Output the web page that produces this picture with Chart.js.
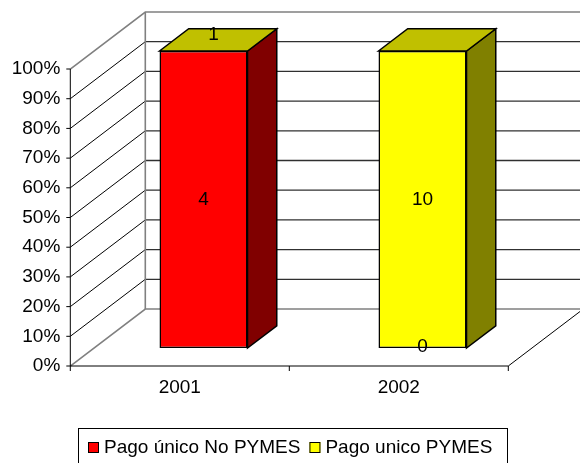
<!DOCTYPE html>
<html>
<head>
<meta charset="utf-8">
<script src="https://cdn.jsdelivr.net/npm/chart.js@4/dist/chart.umd.min.js"></script>
<style>
  html, body { margin: 0; padding: 0; background: #fff; }
  #wrap { width: 580px; height: 463px; }
</style>
</head>
<body>
<div id="wrap"><canvas id="myChart" width="580" height="463"></canvas></div>
<script>
// datos (100% apilado)
const categories = ['2001', '2002'];
const seriesNames = ['Pago único No PYMES', 'Pago unico PYMES'];
const noPymesPct = [100, 0];
const pymesPct = [0, 100];
// etiquetas de datos tal como aparecen
const noPymesLabels = ['4', '0'];
const pymesLabels = ['1', '10'];
const yTickValues = [0, 10, 20, 30, 40, 50, 60, 70, 80, 90, 100];
const yTickLabels = ['0%', '10%', '20%', '30%', '40%', '50%', '60%', '70%', '80%', '90%', '100%'];

const FONT = '19px "Liberation Sans", Arial, sans-serif';
const frontColors = ['#ff0000', '#ffff00'];
const sideColors = ['#800000', '#808000'];
const topColors = ['#c00000', '#c0c000'];

// profundidad del 3D
const DX = 75, DY = -57;   // del plano frontal al fondo
const DF = 0.316;          // plano donde estan las caras de las barras
const BD = 0.39;           // profundidad de la barra

function plane(chart, d) {
    const xs = chart.scales.x, ys = chart.scales.y;
    const ox = (d - DF) * DX, oy = (d - DF) * DY;
    return {
        left: xs.left + ox,
        right: xs.right + ox,
        x: px => px + ox,
        y: v => ys.getPixelForValue(v) + oy
    };
}

function line(ctx, pts, color, w) {
    ctx.beginPath();
    ctx.moveTo(pts[0][0], pts[0][1]);
    for (let i = 1; i < pts.length; i++) ctx.lineTo(pts[i][0], pts[i][1]);
    ctx.strokeStyle = color;
    ctx.lineWidth = w;
    ctx.stroke();
}

const wallsPlugin = {
    id: 'walls',
    beforeDatasetsDraw(chart) {
        const ctx = chart.ctx;
        const f = plane(chart, 0), b = plane(chart, 1);
        ctx.save();
        yTickValues.forEach(v => {
            if (v > 0 && v < 100) {
                line(ctx, [[f.left, f.y(v)], [b.left, b.y(v)]], '#000', 1);
                line(ctx, [[b.left, b.y(v)], [b.right, b.y(v)]], '#303030', 1.3);
            }
        });
        // bordes grises de paredes
        line(ctx, [[f.left, f.y(100)], [b.left, b.y(100)], [b.right, b.y(100)]], '#808080', 1.6);
        line(ctx, [[b.left, b.y(100)], [b.left, b.y(0)]], '#808080', 1.6);
        line(ctx, [[f.left, f.y(0)], [b.left, b.y(0)], [b.right, b.y(0)]], '#808080', 1.6);
        // ejes
        line(ctx, [[f.left, f.y(100)], [f.left, f.y(0)], [f.right, f.y(0)], [b.right, b.y(0)]], '#000', 1);
        yTickValues.forEach(v => {
            line(ctx, [[f.left - 4, f.y(v)], [f.left, f.y(v)]], '#000', 1);
        });
        const xs = chart.scales.x;
        const bounds = [xs.left, (xs.left + xs.right) / 2, xs.right];
        bounds.forEach(px => {
            line(ctx, [[f.x(px), f.y(0)], [f.x(px), f.y(0) + 5]], '#000', 1);
        });
        ctx.fillStyle = '#000';
        ctx.font = FONT;
        ctx.textAlign = 'right';
        ctx.textBaseline = 'middle';
        yTickValues.forEach((v, i) => {
            ctx.fillText(yTickLabels[i], f.left - 10, f.y(v));
        });
        ctx.textAlign = 'center';
        categories.forEach((c, i) => {
            ctx.fillText(c, f.x(xs.getPixelForValue(i)), f.y(0) + 22);
        });
        ctx.restore();
    }
};

const bars3dPlugin = {
    id: 'bars3d',
    afterDatasetsDraw(chart) {
        const ctx = chart.ctx;
        const dx = BD * DX, dy = BD * DY;
        const nSets = chart.data.datasets.length;
        const labelSets = [noPymesLabels, pymesLabels];
        ctx.save();
        ctx.lineJoin = 'miter';
        for (let i = 0; i < nSets; i++) {
            const meta = chart.getDatasetMeta(i);
            meta.data.forEach((bar, j) => {
                const p = bar.getProps(['x', 'y', 'base', 'width'], true);
                const l = p.x - p.width / 2, r = p.x + p.width / 2;
                const top = Math.min(p.y, p.base), bot = Math.max(p.y, p.base);
                if (bot - top > 0.5) {
                    ctx.beginPath();
                    ctx.moveTo(r, top);
                    ctx.lineTo(r + dx, top + dy);
                    ctx.lineTo(r + dx, bot + dy);
                    ctx.lineTo(r, bot);
                    ctx.closePath();
                    ctx.fillStyle = sideColors[i];
                    ctx.fill();
                    ctx.strokeStyle = '#000';
                    ctx.lineWidth = 1.5;
                    ctx.stroke();
                }
                if (i === nSets - 1) {
                    ctx.beginPath();
                    ctx.moveTo(l, top);
                    ctx.lineTo(l + dx, top + dy);
                    ctx.lineTo(r + dx, top + dy);
                    ctx.lineTo(r, top);
                    ctx.closePath();
                    ctx.fillStyle = topColors[i];
                    ctx.fill();
                    ctx.strokeStyle = '#000';
                    ctx.lineWidth = 1.5;
                    ctx.stroke();
                }
            });
        }
        // etiquetas de datos
        ctx.fillStyle = '#000';
        ctx.font = FONT;
        ctx.textAlign = 'center';
        ctx.textBaseline = 'middle';
        for (let i = 0; i < nSets; i++) {
            const meta = chart.getDatasetMeta(i);
            meta.data.forEach((bar, j) => {
                const p = bar.getProps(['x', 'y', 'base'], true);
                let lx = p.x, ly = (p.y + p.base) / 2;
                if (Math.abs(p.y - p.base) < 0.5) {
                    if (p.y < chart.chartArea.top + 1) { lx += 10; ly -= 16; }
                    else { ly -= 1; }
                }
                ctx.fillText(labelSets[i][j], lx, ly);
            });
        }
        ctx.restore();
    }
};

const legendPlugin = {
    id: 'boxLegend',
    afterDraw(chart) {
        const ctx = chart.ctx;
        ctx.save();
        ctx.strokeStyle = '#000';
        ctx.lineWidth = 1;
        ctx.strokeRect(78.5, 428.5, 429, 40);
        ctx.font = FONT;
        ctx.textBaseline = 'middle';
        ctx.textAlign = 'left';
        let x = 88;
        const yc = 448;
        chart.data.datasets.forEach((ds, i) => {
            ctx.fillStyle = ds.backgroundColor;
            ctx.fillRect(x, yc - 6, 11, 11);
            ctx.strokeStyle = '#000';
            ctx.strokeRect(x + 0.5, yc - 5.5, 10, 10);
            ctx.fillStyle = '#000';
            ctx.fillText(ds.label, x + 16, yc);
            x += 16 + ctx.measureText(ds.label).width + 9;
        });
        ctx.restore();
    }
};

function drawChart() {
    const ctx = document.getElementById('myChart');
    new Chart(ctx, {
        type: 'bar',
        data: {
            labels: categories,
            datasets: [
                { label: seriesNames[0], data: noPymesPct, backgroundColor: frontColors[0] },
                { label: seriesNames[1], data: pymesPct, backgroundColor: frontColors[1] }
            ]
        },
        options: {
            responsive: false,
            animation: false,
            devicePixelRatio: 1,
            layout: { padding: { left: 94, right: 48, top: 51, bottom: 115 } },
            datasets: {
                bar: {
                    borderColor: '#000',
                    borderWidth: 1.5,
                    borderSkipped: false,
                    categoryPercentage: 1,
                    barPercentage: 0.402
                }
            },
            plugins: {
                legend: { display: false },
                tooltip: { enabled: false }
            },
            scales: {
                x: { stacked: true, display: false },
                y: { stacked: true, display: false, min: 0, max: 100 }
            }
        },
        plugins: [wallsPlugin, bars3dPlugin, legendPlugin]
    });
}

window.addEventListener('load', evt => drawChart());
</script>
</body>
</html>
